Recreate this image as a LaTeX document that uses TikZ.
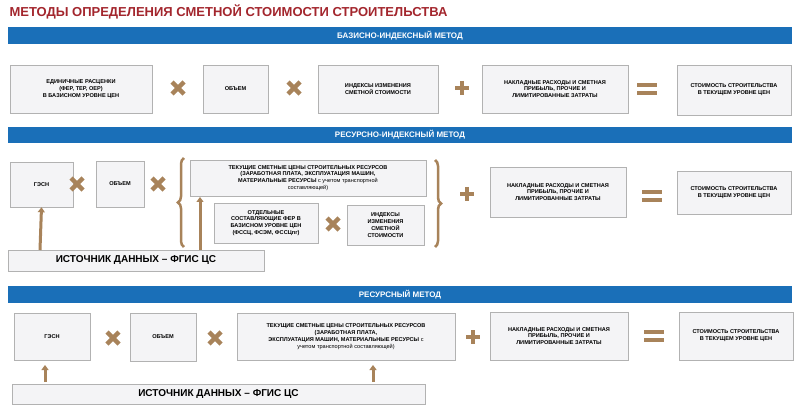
\documentclass[tikz,border=0pt]{standalone}
\usepackage{fontspec}
\setmainfont{Liberation Sans}
\usetikzlibrary{decorations.pathreplacing,shadows,arrows.meta}
\definecolor{ban}{HTML}{1A6FB8}
\definecolor{tan}{HTML}{A8835A}
\definecolor{ttl}{HTML}{A3262D}
\definecolor{bx}{HTML}{F4F4F6}
\tikzset{x=1pt,y=-1pt,
 box/.style={draw=gray!60,fill=bx,line width=0.5pt,drop shadow={opacity=0.25,shadow xshift=1pt,shadow yshift=-1pt},font=\fontsize{5.6}{6.8}\selectfont\bfseries,align=center,inner sep=1pt},
 banner/.style={fill=ban,text=white,font=\fontsize{8}{9}\selectfont\bfseries},
 src/.style={draw=gray!60,fill=bx,font=\fontsize{10}{11}\selectfont\bfseries},
 sym/.style={tan,line width=4.5pt},
 uparr/.style={tan,line width=3pt,-{Triangle[length=5pt,width=7pt]}},
 brc/.style={tan,line width=2.5pt,decorate,decoration={brace,amplitude=6pt}}}
\newcommand{\mul}[2]{\draw[sym] (#1-6,#2-6)--(#1+6,#2+6) (#1-6,#2+6)--(#1+6,#2-6);}
\newcommand{\pls}[2]{\draw[sym] (#1-7,#2)--(#1+7,#2) (#1,#2-7)--(#1,#2+7);}
\newcommand{\eqs}[2]{\draw[tan,line width=4pt] (#1-10,#2-4)--(#1+10,#2-4) (#1-10,#2+4)--(#1+10,#2+4);}
\newcommand{\bxx}[6]{\node[box,minimum width=#4-#2,minimum height=#5-#3] (#1) at ({(#2+#4)/2},{(#3+#5)/2}) {#6};}
\begin{document}
\begin{tikzpicture}
\useasboundingbox[fill=white] (0,0) rectangle (800,414);
\node[anchor=west,text=ttl,font=\fontsize{13}{14}\selectfont\bfseries] (title) at (6,12) {МЕТОДЫ ОПРЕДЕЛЕНИЯ СМЕТНОЙ СТОИМОСТИ СТРОИТЕЛЬСТВА};
% banner 1
\node[banner,minimum width=784,minimum height=17,inner sep=0] (b1) at (400,35.5) {БАЗИСНО-ИНДЕКСНЫЙ МЕТОД};
\bxx{a1}{10}{65}{152}{113}{ЕДИНИЧНЫЕ РАСЦЕНКИ\\(ФЕР, ТЕР, ОЕР)\\В БАЗИСНОМ УРОВНЕ ЦЕН}
\mul{178}{88}
\bxx{a2}{203}{65}{268}{113}{ОБЪЕМ}
\mul{294}{88}
\bxx{a3}{318}{65}{438}{113}{ИНДЕКСЫ ИЗМЕНЕНИЯ\\СМЕТНОЙ СТОИМОСТИ}
\pls{462}{88}
\bxx{a4}{482}{65}{628}{113}{НАКЛАДНЫЕ РАСХОДЫ И СМЕТНАЯ\\ПРИБЫЛЬ, ПРОЧИЕ И\\ЛИМИТИРОВАННЫЕ ЗАТРАТЫ}
\eqs{647}{89}
\bxx{a5}{677}{65}{791}{115}{СТОИМОСТЬ СТРОИТЕЛЬСТВА\\В ТЕКУЩЕМ УРОВНЕ ЦЕН}
% banner 2
\node[banner,minimum width=784,minimum height=16,inner sep=0] (b2) at (400,135) {РЕСУРСНО-ИНДЕКСНЫЙ МЕТОД};
\bxx{c1}{10}{162}{73}{207}{ГЭСН}
\mul{77}{184}
\bxx{c2}{96}{161}{144}{207}{ОБЪЕМ}
\mul{158}{184}
\draw[brc] (184,247)--(184,158);
\bxx{c3}{190}{160}{426}{196}{ТЕКУЩИЕ СМЕТНЫЕ ЦЕНЫ СТРОИТЕЛЬНЫХ РЕСУРСОВ\\(ЗАРАБОТНАЯ ПЛАТА, ЭКСПЛУАТАЦИЯ МАШИН,\\МАТЕРИАЛЬНЫЕ РЕСУРСЫ {\mdseries с учетом транспортной}\\{\mdseries составляющей)}}
\bxx{c4}{214}{203}{318}{243}{ОТДЕЛЬНЫЕ\\СОСТАВЛЯЮЩИЕ ФЕР В\\БАЗИСНОМ УРОВНЕ ЦЕН\\(ФССЦ, ФСЭМ, ФССЦпг)}
\mul{333}{224}
\bxx{c5}{347}{205}{424}{245}{ИНДЕКСЫ\\ИЗМЕНЕНИЯ\\СМЕТНОЙ\\СТОИМОСТИ}
\draw[brc] (435,160)--(435,247);
\pls{467}{194}
\bxx{c6}{490}{167}{626}{217}{НАКЛАДНЫЕ РАСХОДЫ И СМЕТНАЯ\\ПРИБЫЛЬ, ПРОЧИЕ И\\ЛИМИТИРОВАННЫЕ ЗАТРАТЫ}
\eqs{652}{196}
\bxx{c7}{677}{171}{791}{214}{СТОИМОСТЬ СТРОИТЕЛЬСТВА\\В ТЕКУЩЕМ УРОВНЕ ЦЕН}
\node[src,minimum width=256,minimum height=21,inner sep=0] (s2) at (136,260.5) {ИСТОЧНИК ДАННЫХ – ФГИС ЦС};
\coordinate (s2a) at (40,250);
\coordinate (s2b) at (200,250);
\draw[uparr] (s2a)--(c1.south);
\draw[uparr] (s2b)--(200,197);
% banner 3
\node[banner,minimum width=784,minimum height=17,inner sep=0] (b3) at (400,294.5) {РЕСУРСНЫЙ МЕТОД};
\bxx{d1}{14}{313}{90}{360}{ГЭСН}
\mul{113}{338}
\bxx{d2}{130}{313}{196}{361}{ОБЪЕМ}
\mul{215}{338}
\bxx{d3}{237}{313}{455}{360}{ТЕКУЩИЕ СМЕТНЫЕ ЦЕНЫ СТРОИТЕЛЬНЫХ РЕСУРСОВ\\(ЗАРАБОТНАЯ ПЛАТА,\\ЭКСПЛУАТАЦИЯ МАШИН, МАТЕРИАЛЬНЫЕ РЕСУРСЫ {\mdseries с}\\{\mdseries учетом транспортной составляющей)}}
\pls{473}{337}
\bxx{d4}{490}{312}{628}{360}{НАКЛАДНЫЕ РАСХОДЫ И СМЕТНАЯ\\ПРИБЫЛЬ, ПРОЧИЕ И\\ЛИМИТИРОВАННЫЕ ЗАТРАТЫ}
\eqs{654}{336}
\bxx{d5}{679}{312}{793}{360}{СТОИМОСТЬ СТРОИТЕЛЬСТВА\\В ТЕКУЩЕМ УРОВНЕ ЦЕН}
\node[src,minimum width=413,minimum height=20,inner sep=0] (s3) at (218.5,394) {ИСТОЧНИК ДАННЫХ – ФГИС ЦС};
\coordinate (s3a) at (45,382);
\coordinate (s3b) at (373,382);
\draw[uparr] (s3a)--(45,365);
\draw[uparr] (s3b)--(373,365);
\end{tikzpicture}
\end{document}
